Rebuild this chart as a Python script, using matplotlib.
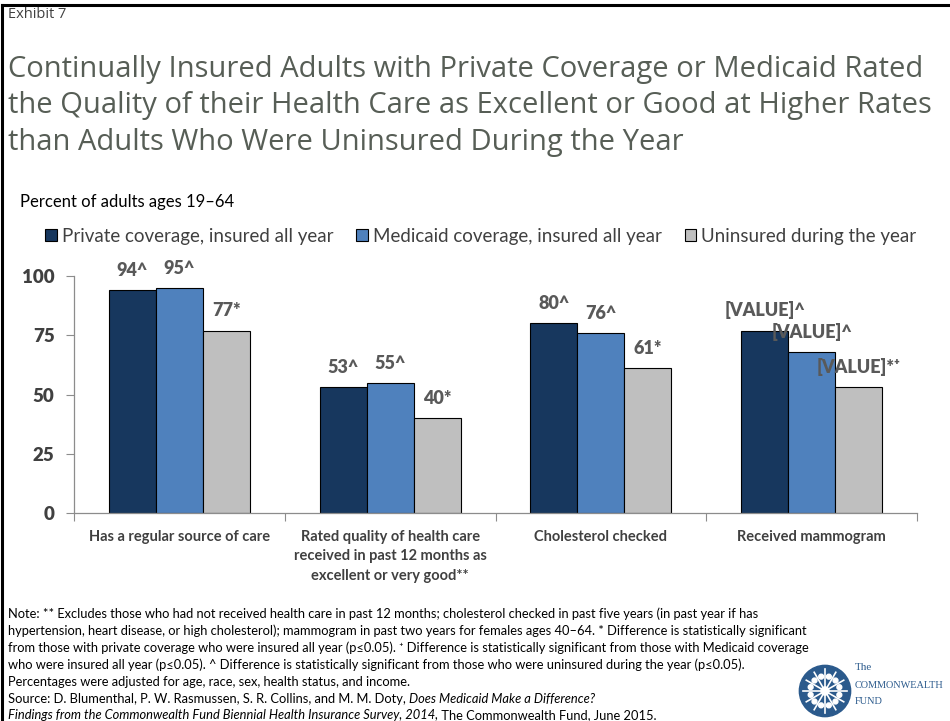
import numpy as np
import matplotlib
matplotlib.use('Agg')
import matplotlib.pyplot as plt
from matplotlib.patches import Circle
from matplotlib.lines import Line2D

# data
categories = ['Has a regular source of care',
              'Rated quality of health care\nreceived in past 12 months as\nexcellent or very good**',
              'Cholesterol checked',
              'Received mammogram']
series_names = ['Private coverage, insured all year',
                'Medicaid coverage, insured all year',
                'Uninsured during the year']
private_vals = [94, 53, 80, 77]
medicaid_vals = [95, 55, 76, 68]
uninsured_vals = [77, 40, 61, 53]
private_labels = ['94^', '53^', '80^', '[VALUE]^']
medicaid_labels = ['95^', '55^', '76^', '[VALUE]^']
uninsured_labels = ['77*', '40*', '61*', '[VALUE]*\u207a']
yticks = [0, 25, 50, 75, 100]

colors = ['#17375e', '#4f81bd', '#bfbfbf']
W, H = 950, 721
FAM = ['Lato', 'DejaVu Sans']

fig = plt.figure(figsize=(W / 100, H / 100), dpi=100)


def px(x, y):
    return x / W, 1 - y / H


# border
fig.add_artist(Line2D([0.002, 1], [1 - 5 / H, 1 - 5 / H], color='black', lw=2.2))
fig.add_artist(Line2D([1.5 / W, 1.5 / W], [0, 1 - 5 / H], color='black', lw=2.2))

fig.text(*px(8, 15), 'Exhibit 7', fontsize=10.5, color='#404040', family='Open Sans', va='center')
title = ('Continually Insured Adults with Private Coverage or Medicaid Rated\n'
         'the Quality of their Health Care as Excellent or Good at Higher Rates\n'
         'than Adults Who Were Uninsured During the Year')
fig.text(*px(8, 106), title, fontsize=21, color='#575e56', family='Open Sans',
         va='center', linespacing=1.32)
fig.text(*px(20, 202), 'Percent of adults ages 19\u201364', fontsize=12, color='black',
         family=FAM, va='center')

ax = fig.add_axes([74 / W, 1 - 513 / H, (917 - 74) / W, (513 - 276) / H])
x = np.arange(len(categories))
bw = 0.223
groups = [private_vals, medicaid_vals, uninsured_vals]
labels = [private_labels, medicaid_labels, uninsured_labels]
for i, (vals, labs) in enumerate(zip(groups, labels)):
    pos = x + (i - 1) * bw
    ax.bar(pos, vals, bw, color=colors[i], edgecolor='black', linewidth=0.8,
           label=series_names[i], zorder=2)
    for p, v, t in zip(pos, vals, labs):
        ax.annotate(t, (p, v), xytext=(0, 8), textcoords='offset points',
                    ha='center', va='bottom', fontsize=13, fontweight='heavy',
                    color='#595959', family=FAM, zorder=3)

ax.set_xlim(-0.5, len(categories) - 0.5)
ax.set_ylim(0, 100)
ax.set_yticks(yticks)
ax.set_yticklabels([str(t) for t in yticks], fontsize=13.5, fontweight='heavy',
                   color='#404040', family=FAM)
ax.set_xticks(np.arange(len(categories) + 1) - 0.5, minor=False)
ax.set_xticklabels([])
ax.set_xticks(x, minor=True)
ax.set_xticklabels(categories, minor=True, fontsize=10.5, fontweight='bold',
                   color='#404040', family=FAM, linespacing=1.5, va='top')
ax.tick_params(axis='x', which='minor', length=0, pad=12)
ax.tick_params(axis='x', which='major', length=6, color='#8c8c8c', direction='out')
ax.tick_params(axis='y', length=6, color='#8c8c8c', pad=8)
for s in ['top', 'right']:
    ax.spines[s].set_visible(False)
for s in ['left', 'bottom']:
    ax.spines[s].set_color('#8c8c8c')
    ax.spines[s].set_linewidth(0.9)

leg = fig.legend(*ax.get_legend_handles_labels(), loc='center', ncol=3,
                 bbox_to_anchor=(481 / W, 1 - 236 / H), frameon=False,
                 prop={'family': FAM, 'size': 13.5}, handlelength=0.6,
                 handleheight=0.6, handletextpad=0.3, columnspacing=1.2)
for t in leg.get_texts():
    t.set_color('#404040')

# notes
note_lines = [
    'Note: ** Excludes those who had not received health care in past 12 months; cholesterol checked in past five years (in past year if has',
    'hypertension, heart disease, or high cholesterol); mammogram in past two years for females ages 40\u201364. * Difference is statistically significant',
    'from those with private coverage who were insured all year (p\u22640.05). \u207a Difference is statistically significant from those with Medicaid coverage',
    'who were insured all year (p\u22640.05). ^ Difference is statistically significant from those who were uninsured during the year (p\u22640.05).',
    'Percentages were adjusted for age, race, sex, health status, and income.',
]
fs = 9.3
for k, line in enumerate(note_lines):
    fig.text(*px(8, 614 + k * 17), line, fontsize=fs, family=FAM, va='center', color='black')

fig.canvas.draw()
rend = fig.canvas.get_renderer()


def run(parts, y):
    xx = 8
    for txt, style in parts:
        t = fig.text(*px(xx, y), txt, fontsize=fs, family=FAM, style=style,
                     va='center', color='black')
        xx += t.get_window_extent(rend).width


run([('Source: D. Blumenthal, P. W. Rasmussen, S. R. Collins, and M. M. Doty, ', 'normal'),
     ('Does Medicaid Make a Difference?', 'italic')], 699)
run([('Findings from the Commonwealth Fund Biennial Health Insurance Survey, 2014,', 'italic'),
     (' The Commonwealth Fund, June 2015.', 'normal')], 715)

# logo
lax = fig.add_axes([798 / W, 1 - 718 / H, 54 / W, 54 / H])
lax.set_xlim(-1, 1)
lax.set_ylim(-1, 1)
lax.set_aspect('equal')
lax.axis('off')
lax.add_patch(Circle((0, 0), 0.95, color='#2b5a8c'))
for a in np.linspace(0, 2 * np.pi, 12, endpoint=False):
    lax.plot([0.15 * np.cos(a), 0.8 * np.cos(a)], [0.15 * np.sin(a), 0.8 * np.sin(a)],
             color='white', lw=1.2)
    lax.add_patch(Circle((0.55 * np.cos(a + 0.26), 0.55 * np.sin(a + 0.26)), 0.09,
                         color='white'))
lax.add_patch(Circle((0, 0), 0.15, color='white'))
logo_fam = ['Liberation Serif', 'DejaVu Serif']
fig.text(*px(855, 668), 'The', fontsize=8, family=logo_fam, color='#2b5a8c', va='center')
fig.text(*px(855, 685), 'COMMONWEALTH', fontsize=7.4, family=logo_fam,
         color='#2b5a8c', va='center')
fig.text(*px(855, 701), 'FUND', fontsize=7.4, family=logo_fam,
         color='#2b5a8c', va='center')

fig.savefig('out.png', dpi=100)
